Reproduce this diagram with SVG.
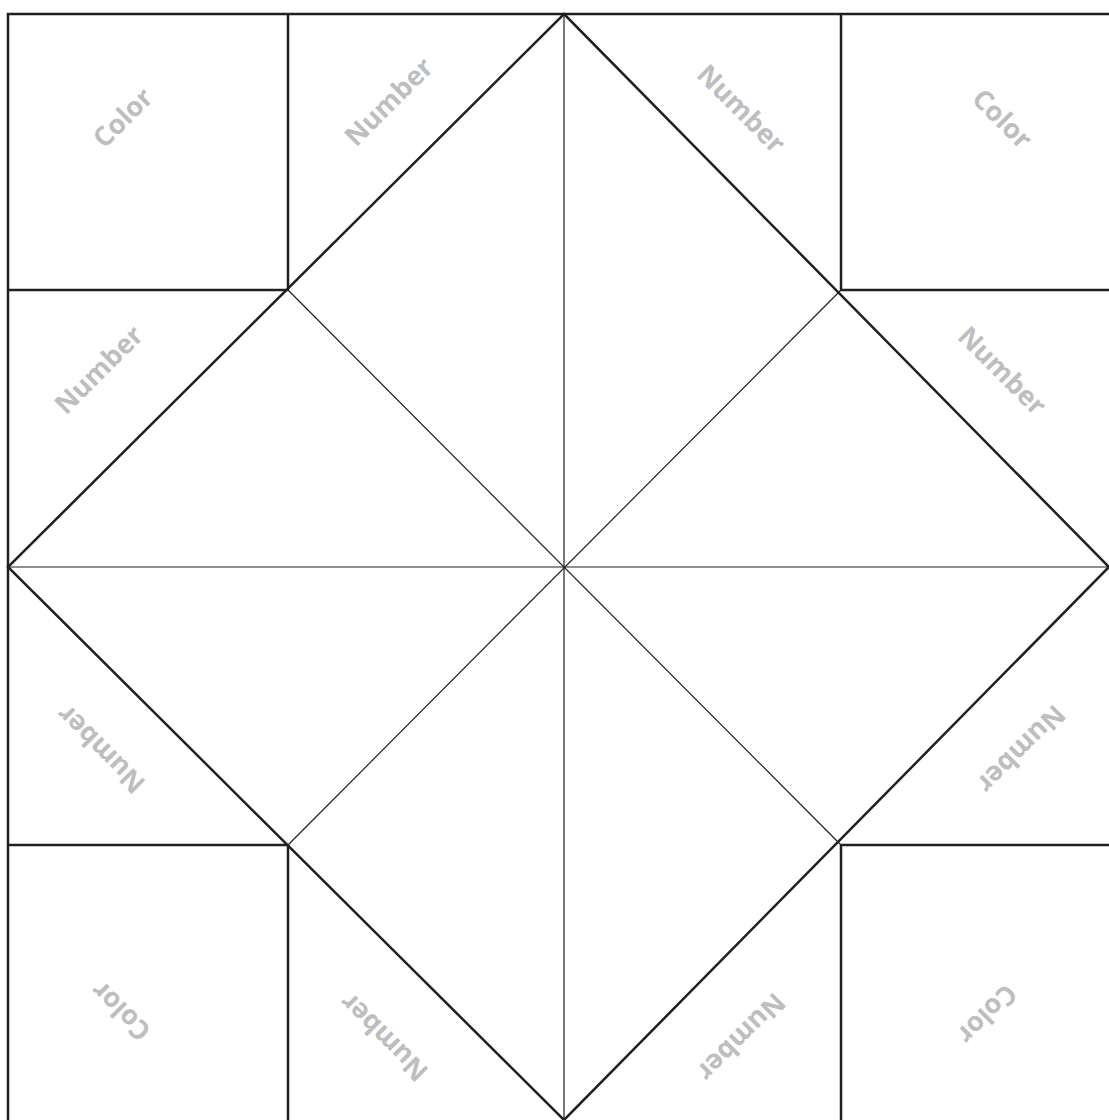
<svg xmlns="http://www.w3.org/2000/svg" width="1109" height="1120" viewBox="0 0 1109 1120">
<style>
.thick{stroke:#231f20;stroke-width:2.5;fill:none}
.thin{stroke:#231f20;stroke-width:1.2;fill:none}
.lbl{font-family:"Open Sans","Liberation Sans",sans-serif;font-weight:700;font-size:27px;fill:#bcbec0;text-anchor:middle;dominant-baseline:central}
</style>
<rect width="1109" height="1120" fill="#fff"/>
<g id="connectors">
<line class="thin" x1="564" y1="14" x2="564" y2="1120"/>
<line class="thin" x1="8" y1="567" x2="1109" y2="567"/>
<line class="thin" x1="288" y1="290" x2="841" y2="845"/>
<line class="thin" x1="841" y1="290" x2="288" y2="845"/>
<polyline class="thick" points="8,1120 8,14 1109,14"/>
<line class="thick" x1="288" y1="14" x2="288" y2="290"/>
<line class="thick" x1="841" y1="14" x2="841" y2="290"/>
<line class="thick" x1="288" y1="845" x2="288" y2="1120"/>
<line class="thick" x1="841" y1="845" x2="841" y2="1120"/>
<line class="thick" x1="8" y1="290" x2="288" y2="290"/>
<line class="thick" x1="841" y1="290" x2="1109" y2="290"/>
<line class="thick" x1="8" y1="845" x2="288" y2="845"/>
<line class="thick" x1="841" y1="845" x2="1109" y2="845"/>
<polygon class="thick" points="564,14 1109,567 564,1120 8,567"/>
</g>
<g id="label-tl-color"><text class="lbl" transform="translate(122,117) rotate(-45)">Color</text></g>
<g id="label-t-number1"><text class="lbl" transform="translate(388,101) rotate(-45)">Number</text></g>
<g id="label-t-number2"><text class="lbl" transform="translate(742,108) rotate(45)">Number</text></g>
<g id="label-tr-color"><text class="lbl" transform="translate(1003,118) rotate(45)">Color</text></g>
<g id="label-l-number"><text class="lbl" transform="translate(98,369) rotate(-45)">Number</text></g>
<g id="label-r-number"><text class="lbl" transform="translate(1003,370) rotate(45)">Number</text></g>
<g id="label-ll-number"><text class="lbl" transform="translate(100,750) rotate(-135)">Number</text></g>
<g id="label-lr-number"><text class="lbl" transform="translate(1022,750) rotate(135)">Number</text></g>
<g id="label-bl-color"><text class="lbl" transform="translate(120,1012) rotate(-135)">Color</text></g>
<g id="label-b-number1"><text class="lbl" transform="translate(383,1038) rotate(-135)">Number</text></g>
<g id="label-b-number2"><text class="lbl" transform="translate(742,1038) rotate(135)">Number</text></g>
<g id="label-br-color"><text class="lbl" transform="translate(988,1015) rotate(135)">Color</text></g>
</svg>
